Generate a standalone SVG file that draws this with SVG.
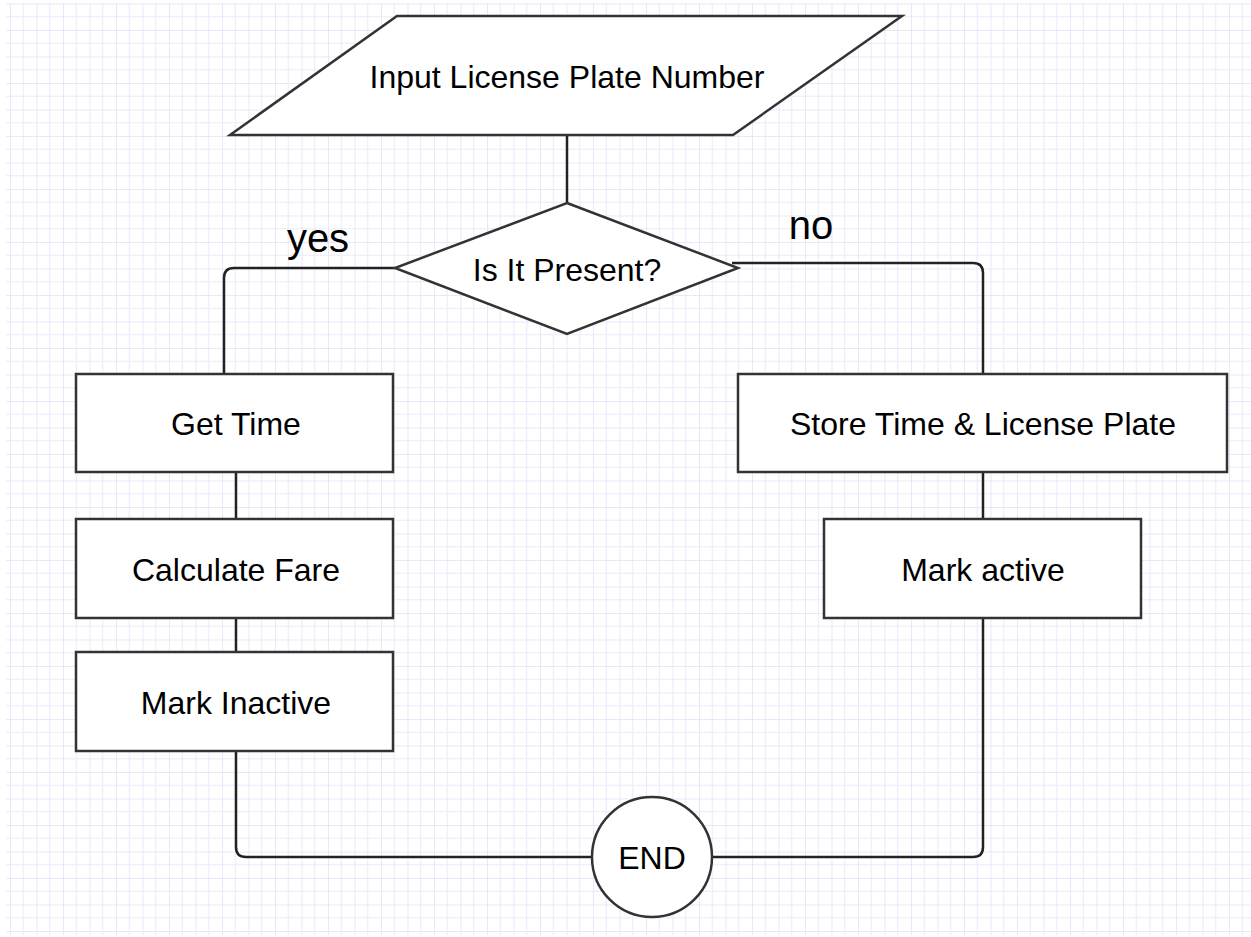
<svg xmlns="http://www.w3.org/2000/svg" width="1251" height="937" viewBox="0 0 1251 937">
<defs>
<pattern id="grid" x="10" y="3.5" width="26.5" height="26.5" patternUnits="userSpaceOnUse">
<path d="M0 0V26.5M13.25 0V26.5M0 0H26.5M0 13.25H26.5" fill="none" stroke="#ebebfc" stroke-width="1.2"/>
<path d="M0 0V26.5M0 0H26.5" fill="none" stroke="#e3e3fa" stroke-width="1.4"/>
</pattern>
<style>
.shape{fill:#fff;stroke:#333;stroke-width:2.5}
.conn{fill:none;stroke:#222;stroke-width:2.5}
.t{font-family:"Liberation Sans",Arial,sans-serif;font-size:32px;fill:#000;text-anchor:middle}
.lbl{font-family:"Liberation Sans",Arial,sans-serif;font-size:40px;fill:#000;text-anchor:middle}
</style>
</defs>
<rect width="1251" height="937" fill="#fff"/>
<rect x="6" y="3" width="1245" height="932" fill="url(#grid)"/>
<g id="connectors">
<path class="conn" d="M567 135V203"/>
<path class="conn" d="M395 268H234Q224 268 224 278V374"/>
<path class="conn" d="M732 263H973Q983 263 983 273V374"/>
<path class="conn" d="M236 472V519"/>
<path class="conn" d="M236 618V652"/>
<path class="conn" d="M983 472V519"/>
<path class="conn" d="M236 751V847Q236 857 246 857H592"/>
<path class="conn" d="M983 618V847Q983 857 973 857H712"/>
<text class="lbl" x="318" y="252">yes</text>
<text class="lbl" x="811" y="239">no</text>
</g>
<g id="input">
<polygon class="shape" points="397,16 902,16 733,135 230,135"/>
<text class="t" x="567" y="88">Input License Plate Number</text>
</g>
<g id="decision">
<polygon class="shape" points="567,203 738,268 567,334 395,268"/>
<text class="t" x="567" y="281">Is It Present?</text>
</g>
<g id="get-time">
<rect class="shape" x="76" y="374" width="317" height="98"/>
<text class="t" x="236" y="435">Get Time</text>
</g>
<g id="calculate-fare">
<rect class="shape" x="76" y="519" width="317" height="99"/>
<text class="t" x="236" y="581">Calculate Fare</text>
</g>
<g id="mark-inactive">
<rect class="shape" x="76" y="652" width="317" height="99"/>
<text class="t" x="236" y="714">Mark Inactive</text>
</g>
<g id="store">
<rect class="shape" x="738" y="374" width="489" height="98"/>
<text class="t" x="983" y="435">Store Time &amp; License Plate</text>
</g>
<g id="mark-active">
<rect class="shape" x="824" y="519" width="317" height="99"/>
<text class="t" x="983" y="581">Mark active</text>
</g>
<g id="end">
<circle class="shape" cx="652" cy="857" r="60"/>
<text class="t" x="652" y="869">END</text>
</g>
</svg>
